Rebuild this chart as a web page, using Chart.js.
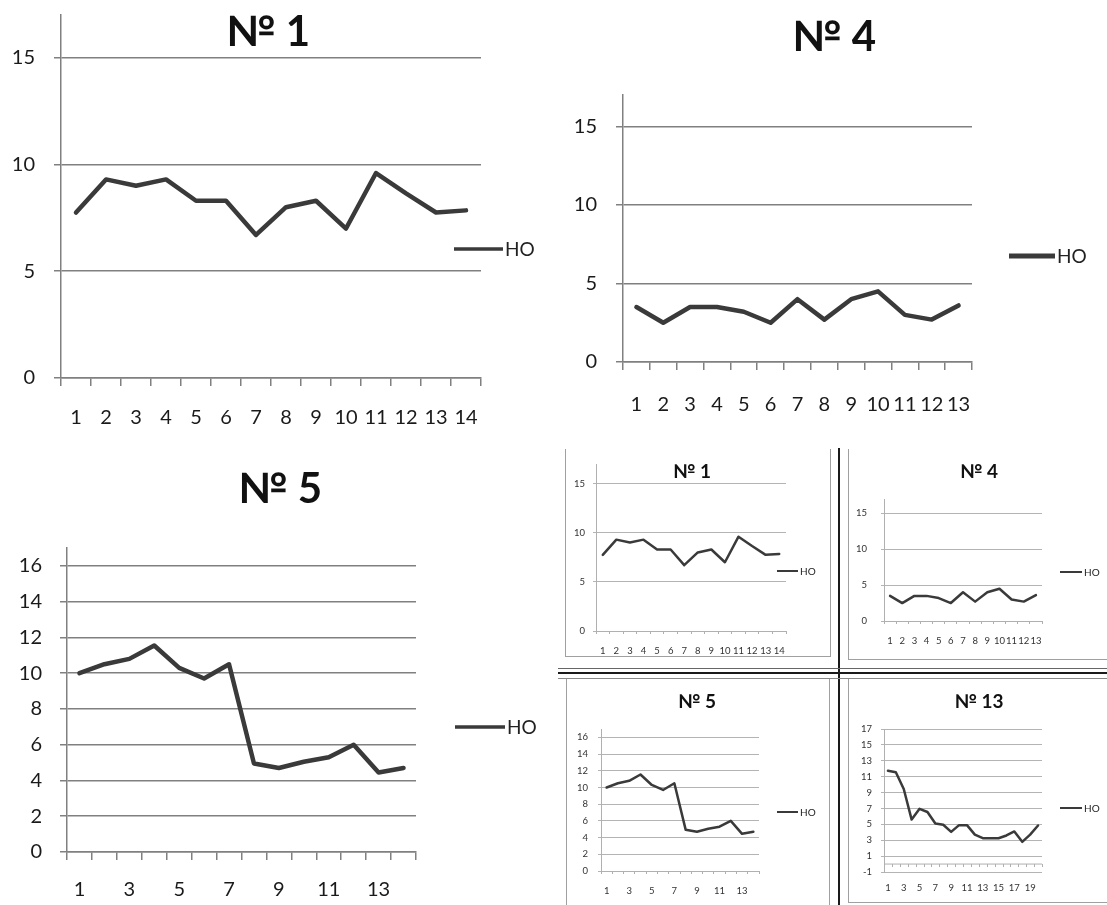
<!DOCTYPE html>
<html><head><meta charset="utf-8">
<script src="https://cdn.jsdelivr.net/npm/chart.js@4.4.1/dist/chart.umd.min.js"></script>
<style>
html,body{margin:0;padding:0;background:#fff;}
#stage{position:relative;width:1107px;height:905px;overflow:hidden;background:#fff;}
#stage canvas{position:absolute;left:0;top:0;}
.ln{position:absolute;}
.g{background:#a0a0a0;}
.k{background:#1a1a1a;}
</style></head><body>
<div id="stage">
  <!-- frame of the bottom-right composite picture -->
  <div class="ln g" style="left:565px;top:449px;width:1px;height:208px"></div>
  <div class="ln g" style="left:565px;top:656px;width:265px;height:1px"></div>
  <div class="ln g" style="left:830px;top:449px;width:1px;height:208px"></div>
  <div class="ln k" style="left:838px;top:448px;width:2px;height:457px"></div>
  <div class="ln g" style="left:848px;top:449px;width:1px;height:210px"></div>
  <div class="ln g" style="left:848px;top:659px;width:259px;height:1px"></div>
  <div class="ln" style="left:558px;top:668px;width:549px;height:1px;background:#666"></div>
  <div class="ln k" style="left:558px;top:672px;width:549px;height:2px"></div>
  <div class="ln" style="left:558px;top:678px;width:549px;height:1px;background:#888"></div>
  <div class="ln g" style="left:566px;top:679px;width:1px;height:226px"></div>
  <div class="ln g" style="left:829px;top:679px;width:1px;height:226px"></div>
  <div class="ln g" style="left:848px;top:679px;width:1px;height:223px"></div>
  <div class="ln g" style="left:848px;top:902px;width:259px;height:1px"></div>

  <canvas id="cA" width="1107" height="905"></canvas>
  <canvas id="cB" width="1107" height="905"></canvas>
  <canvas id="cC" width="1107" height="905"></canvas>
  <canvas id="cD" width="1107" height="905"></canvas>
  <canvas id="cE" width="1107" height="905"></canvas>
  <canvas id="cF" width="1107" height="905"></canvas>
  <canvas id="cG" width="1107" height="905"></canvas>
</div>
<script>
// ---------- data ----------
const seriesName = 'HO';
const cats13 = ['1','2','3','4','5','6','7','8','9','10','11','12','13'];
const cats14 = ['1','2','3','4','5','6','7','8','9','10','11','12','13','14'];
const cats20 = ['1','2','3','4','5','6','7','8','9','10','11','12','13','14','15','16','17','18','19','20'];
const ho1  = [7.75, 9.3, 9.0, 9.3, 8.3, 8.3, 6.7, 8.0, 8.3, 7.0, 9.6, 8.65, 7.75, 7.85];
const ho4  = [3.5, 2.5, 3.5, 3.5, 3.2, 2.5, 4.0, 2.7, 4.0, 4.5, 3.0, 2.7, 3.6];
const ho5  = [10.0, 10.5, 10.8, 11.55, 10.3, 9.7, 10.5, 4.95, 4.7, 5.05, 5.3, 6.0, 4.45, 4.7];
const ho13 = [11.75, 11.55, 9.45, 5.6, 6.95, 6.55, 5.1, 4.95, 4.05, 4.9, 4.9, 3.7, 3.25, 3.25, 3.25, 3.6, 4.1, 2.8, 3.7, 4.85];
const titles = {c1: '№ 1', c4: '№ 4', c5: '№ 5', c13: '№ 13'};

// ---------- decoration plugin: title, legend and zero axis ----------
const FONT = 'Lato, "Noto Sans", "DejaVu Sans", sans-serif';
const decorPlugin = {
  id: 'decor',
  beforeDatasetsDraw(chart, args, o) {
    if (!o.zeroAxis) return;
    const ctx = chart.ctx, xs = chart.scales.x, ys = chart.scales.y;
    const y0 = ys.getPixelForValue(0);
    const n = chart.data.labels.length;
    ctx.save();
    ctx.strokeStyle = o.axisColor; ctx.lineWidth = 1;
    ctx.beginPath();
    ctx.moveTo(chart.chartArea.left, y0); ctx.lineTo(chart.chartArea.right, y0);
    for (let k = 0; k <= n; k++) {
      const px = Math.round(xs.getPixelForValue(k - 0.5)) + 0.5;
      ctx.moveTo(px, y0); ctx.lineTo(px, y0 + 3);
    }
    ctx.stroke();
    ctx.restore();
  },
  afterDraw(chart, args, o) {
    const ctx = chart.ctx;
    const ds = chart.data.datasets[0];
    ctx.save();
    ctx.fillStyle = '#111';
    ctx.textBaseline = 'middle';
    ctx.textAlign = 'center';
    ctx.font = 'bold ' + o.titleSize + 'px ' + FONT;
    ctx.fillText(o.title, o.titleX, o.titleY);
    ctx.strokeStyle = ds.borderColor;
    ctx.lineWidth = o.lw;
    ctx.lineCap = 'butt';
    ctx.beginPath(); ctx.moveTo(o.lx1, o.ly); ctx.lineTo(o.lx2, o.ly); ctx.stroke();
    ctx.textAlign = 'left';
    ctx.font = o.legendSize + 'px ' + FONT;
    ctx.fillStyle = '#222';
    ctx.fillText(ds.label, o.lx2 + 2, o.ly + 1);
    ctx.restore();
  }
};

function makeChart(c) {
  const stepFilter = (s) => {
    s.ticks = s.ticks.filter(t => Math.abs(((t.value - c.min) / c.step) - Math.round((t.value - c.min) / c.step)) < 1e-9);
  };
  const noPad = (s) => { s.paddingTop = 0; s.paddingBottom = 0; s.paddingLeft = 0; s.paddingRight = 0; };
  new Chart(document.getElementById(c.id), {
    type: 'line',
    data: {
      labels: c.labels,
      datasets: [{
        label: seriesName, data: c.values,
        borderColor: '#3a3a3a', borderWidth: c.lineWidth,
        pointRadius: 0, tension: 0, fill: false,
        borderJoinStyle: 'round', borderCapStyle: 'round'
      }]
    },
    options: {
      responsive: false, animation: false, events: [],
      layout: { padding: { left: c.area.L - c.yw, right: 1107 - c.area.R, top: c.area.T, bottom: 905 - c.area.B - c.xh } },
      plugins: {
        legend: { display: false }, title: { display: false }, tooltip: { enabled: false },
        decor: {
          title: c.title, titleSize: c.titleSize, titleX: c.titleX, titleY: c.titleY,
          lx1: c.lx1, lx2: c.lx2, ly: c.ly, lw: c.lw, legendSize: c.legendSize,
          zeroAxis: !!c.zeroAxis, axisColor: c.axis
        }
      },
      scales: {
        x: {
          type: 'category', offset: true,
          afterFit: (s) => { s.height = c.xh; noPad(s); },
          grid: { display: !c.zeroAxis, offset: true, drawOnChartArea: false, drawTicks: true, tickLength: c.xTick, color: c.axis, lineWidth: c.gridW },
          border: { display: !c.zeroAxis, color: c.axis, width: c.gridW },
          ticks: {
            autoSkip: false, maxRotation: 0, minRotation: 0, padding: c.xlPad, color: c.textColor,
            font: { family: FONT, size: c.tickFont },
            callback: function (v, i) { return (!c.oddOnly || i % 2 === 0) ? this.getLabelForValue(v) : ''; }
          }
        },
        y: {
          type: 'linear', min: c.min, max: c.max, bounds: 'data',
          afterFit: (s) => { s.width = c.yw; noPad(s); },
          afterBuildTicks: stepFilter,
          grid: { color: c.grid, lineWidth: c.gridW, drawTicks: true, tickLength: c.yTick },
          border: { display: true, color: c.axis, width: c.gridW },
          ticks: { stepSize: c.step, padding: c.ylPad, color: c.textColor, font: { family: FONT, size: c.tickFont } }
        }
      }
    },
    plugins: [decorPlugin]
  });
}

const bigStyle = { yw: 58, xh: 52, tickFont: 20, yTick: 7, xTick: 8, lineWidth: 4.5, grid: '#808080', axis: '#808080', gridW: 1.5, titleSize: 42, legendSize: 19, textColor: '#1a1a1a' };
const smallStyle = { yw: 30, xh: 30, tickFont: 9.5, yTick: 3, xTick: 3, lineWidth: 2.5, grid: '#b4b4b4', axis: '#b0b0b0', gridW: 1, titleSize: 19, legendSize: 10, lw: 2, textColor: '#333' };

makeChart(Object.assign({}, bigStyle, { id: 'cA', labels: cats14, values: ho1, area: {L: 61, R: 481, T: 15, B: 378}, min: 0, max: 17, step: 5, ylPad: 19, xlPad: 20,
  title: titles.c1, titleX: 268, titleY: 32, lx1: 454, lx2: 503, ly: 249, lw: 3.5 }));
makeChart(Object.assign({}, bigStyle, { id: 'cB', labels: cats13, values: ho4, area: {L: 623, R: 972, T: 95, B: 362}, min: 0, max: 17, step: 5, ylPad: 19, xlPad: 23,
  title: titles.c4, titleX: 834, titleY: 37, lx1: 1009, lx2: 1055, ly: 256, lw: 5 }));
makeChart(Object.assign({}, bigStyle, { id: 'cC', labels: cats14, values: ho5, area: {L: 67, R: 416, T: 548, B: 852}, min: 0, max: 17, step: 2, ylPad: 18, xlPad: 18, oddOnly: true,
  title: titles.c5, titleX: 280, titleY: 489, lx1: 455, lx2: 505, ly: 727, lw: 3.5 }));
makeChart(Object.assign({}, smallStyle, { id: 'cD', labels: cats14, values: ho1, area: {L: 596, R: 786, T: 464, B: 631}, min: 0, max: 17, step: 5, ylPad: 8, xlPad: 11,
  title: titles.c1, titleX: 692, titleY: 472, lx1: 777, lx2: 798, ly: 571 }));
makeChart(Object.assign({}, smallStyle, { id: 'cE', labels: cats13, values: ho4, area: {L: 884, R: 1042, T: 499, B: 621}, min: 0, max: 17, step: 5, ylPad: 14, xlPad: 11,
  title: titles.c4, titleX: 979, titleY: 472, lx1: 1060, lx2: 1082, ly: 572 }));
makeChart(Object.assign({}, smallStyle, { id: 'cF', labels: cats14, values: ho5, area: {L: 601, R: 759, T: 729, B: 871}, min: 0, max: 17, step: 2, ylPad: 10, xlPad: 11, oddOnly: true,
  title: titles.c5, titleX: 697, titleY: 702, lx1: 777, lx2: 798, ly: 812 }));
makeChart(Object.assign({}, smallStyle, { id: 'cG', labels: cats20, values: ho13, area: {L: 884, R: 1042, T: 729, B: 872}, min: -1, max: 17, step: 2, ylPad: 9, xlPad: 7, oddOnly: true, zeroAxis: true,
  title: titles.c13, titleX: 979, titleY: 702, lx1: 1060, lx2: 1082, ly: 808 }));
</script>
</body></html>
